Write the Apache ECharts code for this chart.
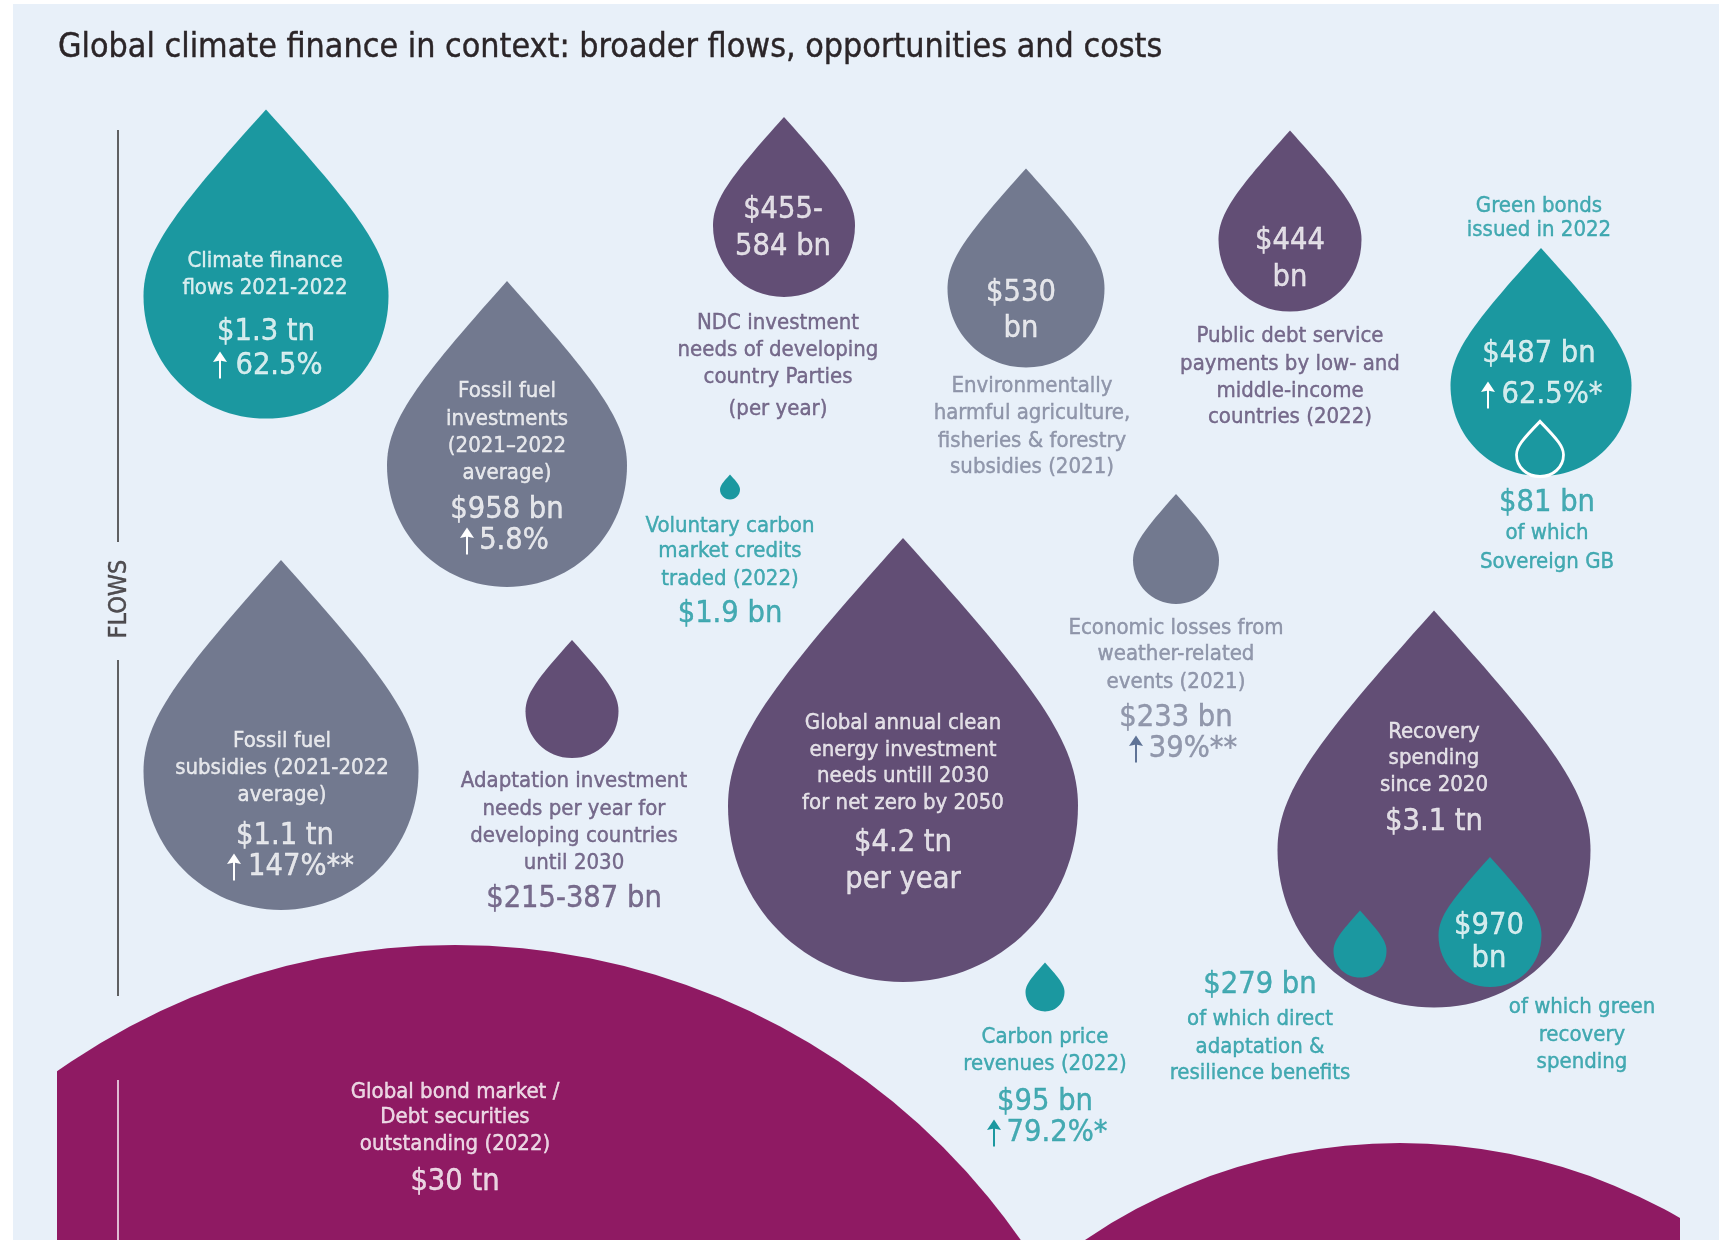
<!DOCTYPE html>
<html>
<head>
<meta charset="utf-8">
<style>
  html, body { margin: 0; padding: 0; background: #fff; }
  #main { width: 1719px; height: 1240px; }
</style>
<script src="https://cdn.jsdelivr.net/npm/echarts@6/dist/echarts.min.js"></script>
</head>
<body>
<div id="main"></div>
<script>
const TITLE = "Global climate finance in context: broader flows, opportunities and costs";

// the drops, in billions of dollars
const dropNames = [
  "Climate finance flows", "Fossil fuel investments", "NDC investment needs",
  "Harmful subsidies", "Public debt service", "Green bonds", "Sovereign green bonds",
  "Voluntary carbon credits", "Economic losses", "Fossil fuel subsidies",
  "Adaptation investment needs", "Clean energy needs", "Recovery spending",
  "Green recovery spending", "Direct adaptation benefits", "Carbon price revenues"
];
const dropValues = [1300, 958, 520, 530, 444, 487, 81, 1.9, 233, 1100, 301, 4200, 3100, 970, 279, 95];

// the two big stocks at the bottom
const stockNames = ["Global bond market", "Second stock"];
const stockValues = [30000, 12000];

// every line of text, in reading order per drop
const textLines = [
  "Climate finance", "flows 2021-2022", "$1.3 tn", "62.5%",
  "Fossil fuel", "investments", "(2021–2022", "average)", "$958 bn", "5.8%",
  "$455-", "584 bn", "NDC investment", "needs of developing", "country Parties", "(per year)",
  "$530", "bn", "Environmentally", "harmful agriculture,", "fisheries & forestry", "subsidies (2021)",
  "$444", "bn", "Public debt service", "payments by low- and", "middle-income", "countries (2022)",
  "Green bonds", "issued in 2022", "$487 bn", "62.5%*", "$81 bn", "of which", "Sovereign GB",
  "Voluntary carbon", "market credits", "traded (2022)", "$1.9 bn",
  "Economic losses from", "weather-related", "events (2021)", "$233 bn", "39%**",
  "Fossil fuel", "subsidies (2021-2022", "average)", "$1.1 tn", "147%**",
  "Adaptation investment", "needs per year for", "developing countries", "until 2030", "$215-387 bn",
  "Global annual clean", "energy investment", "needs untill 2030", "for net zero by 2050", "$4.2 tn", "per year",
  "Recovery", "spending", "since 2020", "$3.1 tn", "$970", "bn",
  "$279 bn", "of which direct", "adaptation &", "resilience benefits",
  "of which green", "recovery", "spending",
  "Carbon price", "revenues (2022)", "$95 bn", "79.2%*",
  "Global bond market /", "Debt securities", "outstanding (2022)", "$30 tn"
];

// layout, kept apart from the data. Pixel positions on the 1719x1240 page
const TEAL = "#1b98a0", PURPLE = "#624e75", GREY = "#72798f", WINE = "#8f1a63", WHITE = "#fff";
const INK_PURPLE = "#5b4b72", INK_GREY = "#7c8298";

// [centre x, centre y, width, height, colour]
const dropBoxes = [
  [266, 264, 245, 309, TEAL], [507, 434, 240, 306, GREY], [784, 207, 142, 180, PURPLE],
  [1026, 268, 157, 199, GREY], [1290, 221, 143, 181, PURPLE], [1541, 362, 181, 228, TEAL],
  [1540, 449, 47, 55, "outline"], [730, 487, 20, 25, TEAL], [1176, 549, 86, 110, GREY],
  [281, 735, 275, 350, GREY], [572, 699, 93, 118, PURPLE], [903, 760, 350, 444, PURPLE],
  [1434, 809, 313, 397, PURPLE], [1490, 922, 103, 130, TEAL], [1360, 944, 53, 67, TEAL],
  [1045, 987, 39, 49, TEAL]
];
// [centre x, centre y, radius]
const stockCircles = [[455, 1635, 690], [1400, 1703, 560]];
// [x, y, colour] of the small up arrows
const arrowPlaces = [
  [220, 365, WHITE], [467, 541, WHITE], [1488, 395, WHITE],
  [1136, 749, "#5f7396"], [234, 867, WHITE], [994, 1133, TEAL]
];

const SMALL = 22, BIG = 30.5;
const TEXT_DROP = 2;
// [x, y, font size, colour], one per entry of textLines
const textPlaces = [
  [265, 259, SMALL, WHITE], [265, 286, SMALL, WHITE], [266, 330, BIG, WHITE], [279, 364, BIG, WHITE],
  [507, 389, SMALL, WHITE], [507, 417, SMALL, WHITE], [507, 444, SMALL, WHITE], [507, 471, SMALL, WHITE], [507, 508, BIG, WHITE], [514, 539, BIG, WHITE],
  [783, 208, BIG, WHITE], [783, 245, BIG, WHITE], [778, 321, SMALL, INK_PURPLE], [778, 348, SMALL, INK_PURPLE], [778, 375, SMALL, INK_PURPLE], [778, 407, SMALL, INK_PURPLE],
  [1021, 291, BIG, WHITE], [1021, 327, BIG, WHITE], [1032, 384, SMALL, INK_GREY], [1032, 411, SMALL, INK_GREY], [1032, 439, SMALL, INK_GREY], [1032, 465, SMALL, INK_GREY],
  [1290, 239, BIG, WHITE], [1290, 276, BIG, WHITE], [1290, 334, SMALL, INK_PURPLE], [1290, 362, SMALL, INK_PURPLE], [1290, 389, SMALL, INK_PURPLE], [1290, 415, SMALL, INK_PURPLE],
  [1539, 204, SMALL, TEAL], [1539, 228, SMALL, TEAL], [1539, 352, BIG, WHITE], [1552, 393, BIG, WHITE], [1547, 501, BIG, TEAL], [1547, 531, SMALL, TEAL], [1547, 560, SMALL, TEAL],
  [730, 524, SMALL, TEAL], [730, 549, SMALL, TEAL], [730, 577, SMALL, TEAL], [730, 612, BIG, TEAL],
  [1176, 626, SMALL, INK_GREY], [1176, 652, SMALL, INK_GREY], [1176, 680, SMALL, INK_GREY], [1176, 716, BIG, INK_GREY], [1193, 747, BIG, INK_GREY],
  [282, 739, SMALL, WHITE], [282, 766, SMALL, WHITE], [282, 793, SMALL, WHITE], [285, 834, BIG, WHITE], [301, 865, BIG, WHITE],
  [574, 779, SMALL, INK_PURPLE], [574, 807, SMALL, INK_PURPLE], [574, 834, SMALL, INK_PURPLE], [574, 861, SMALL, INK_PURPLE], [574, 897, BIG, INK_PURPLE],
  [903, 721, SMALL, WHITE], [903, 748, SMALL, WHITE], [903, 774, SMALL, WHITE], [903, 801, SMALL, WHITE], [903, 841, BIG, WHITE], [903, 878, BIG, WHITE],
  [1434, 730, SMALL, WHITE], [1434, 756, SMALL, WHITE], [1434, 783, SMALL, WHITE], [1434, 820, BIG, WHITE], [1489, 924, BIG, WHITE], [1489, 957, BIG, WHITE],
  [1260, 983, BIG, TEAL], [1260, 1017, SMALL, TEAL], [1260, 1045, SMALL, TEAL], [1260, 1071, SMALL, TEAL],
  [1582, 1005, SMALL, TEAL], [1582, 1033, SMALL, TEAL], [1582, 1060, SMALL, TEAL],
  [1045, 1035, SMALL, TEAL], [1045, 1062, SMALL, TEAL], [1045, 1100, BIG, TEAL], [1057, 1131, BIG, TEAL],
  [455, 1090, SMALL, WHITE], [455, 1115, SMALL, WHITE], [455, 1142, SMALL, WHITE], [455, 1180, BIG, WHITE]
];

const FONT = "'DejaVu Sans Condensed', 'Liberation Sans', sans-serif";
const DROP = "path://M50 0C88 42 100 58 100 76C100 104 78 126 50 126C22 126 0 104 0 76C0 58 12 42 50 0Z";
const ARROW = "path://M7 0L14 11L8 9.5L8 28L6 28L6 9.5L0 11Z";

function rule(x, y1, y2, color) {
  return { type: "line", z: 10, silent: true, shape: { x1: x, y1: y1, x2: x, y2: y2 }, style: { stroke: color, lineWidth: 1.6 } };
}

const chart = echarts.init(document.getElementById("main"), null, { renderer: "canvas" });
chart.setOption({
  animation: false,
  backgroundColor: "#fff",
  graphic: [
    { type: "rect", z: -1, silent: true, shape: { x: 13, y: 4, width: 1706, height: 1236 }, style: { fill: "#e8f0f9" } },
    rule(118, 130, 542, "#3c3c3c"),
    rule(118, 660, 996, "#3c3c3c"),
    rule(118, 1080, 1240, "#f3e4ee")
  ],
  title: {
    text: TITLE, left: 53, top: 26,
    textStyle: {
      fontFamily: FONT, fontSize: 33.75, fontWeight: "normal", color: "#2b2528",
      textBorderColor: "#2b2528", textBorderWidth: 0.4
    }
  },
  grid: [
    { left: 0, top: 0, width: 1719, height: 1240 },
    // the circles are cut at the sides of this one
    { left: 57, top: 0, width: 1623, height: 1240 }
  ],
  xAxis: [
    { gridIndex: 0, type: "value", min: 0, max: 1719, show: false },
    { gridIndex: 1, type: "value", min: 57, max: 1680, show: false }
  ],
  yAxis: [
    { gridIndex: 0, type: "value", min: 0, max: 1240, inverse: true, show: false },
    { gridIndex: 1, type: "value", min: 0, max: 1240, inverse: true, show: false }
  ],
  series: [
    {
      name: "stocks", type: "custom", xAxisIndex: 1, yAxisIndex: 1, clip: true, silent: true, z: 1,
      data: stockValues.map((v, i) => [stockCircles[i][0], stockCircles[i][1], v, stockCircles[i][2]]),
      renderItem: (params, api) => {
        const c = api.coord([api.value(0), api.value(1)]);
        return {
          type: "circle",
          shape: { cx: c[0], cy: c[1], r: api.value(3) },
          style: { fill: WINE }
        };
      }
    },
    {
      name: "drops", type: "scatter", xAxisIndex: 0, yAxisIndex: 0, clip: false, silent: true, z: 2,
      data: dropValues.map((v, i) => {
        const b = dropBoxes[i];
        const outline = b[4] === "outline";
        return {
          name: dropNames[i],
          value: [b[0], b[1], v],
          symbol: DROP,
          symbolKeepAspect: false,
          symbolSize: [b[2], b[3]],
          itemStyle: outline
            ? { color: TEAL, borderColor: WHITE, borderWidth: 3, opacity: 1 }
            : { color: b[4], opacity: 1 }
        };
      })
    },
    {
      name: "arrows", type: "scatter", xAxisIndex: 0, yAxisIndex: 0, clip: false, silent: true, z: 4,
      symbol: ARROW, symbolSize: [14, 27],
      data: arrowPlaces.map(a => ({ value: [a[0], a[1]], itemStyle: { color: a[2], opacity: 1 } }))
    },
    {
      name: "text", type: "scatter", xAxisIndex: 0, yAxisIndex: 0, clip: false, silent: true, z: 5,
      symbol: "circle", symbolSize: 1, itemStyle: { color: "transparent" },
      data: textLines.map((t, i) => ({
        value: [textPlaces[i][0], textPlaces[i][1] + TEXT_DROP],
        label: {
          show: true, position: "inside", formatter: () => t,
          fontFamily: FONT, fontSize: textPlaces[i][2], color: textPlaces[i][3],
          textBorderColor: textPlaces[i][3], textBorderWidth: 0.4,
          align: "center", verticalAlign: "middle"
        }
      })).concat([{
        value: [119, 599],
        label: {
          show: true, position: "inside", formatter: () => "FLOWS", rotate: 90,
          fontFamily: FONT, fontSize: 25, color: "#2b2528", textBorderColor: "#2b2528", textBorderWidth: 0.4,
          align: "center", verticalAlign: "middle"
        }
      }])
    }
  ]
});
</script>
</body>
</html>
